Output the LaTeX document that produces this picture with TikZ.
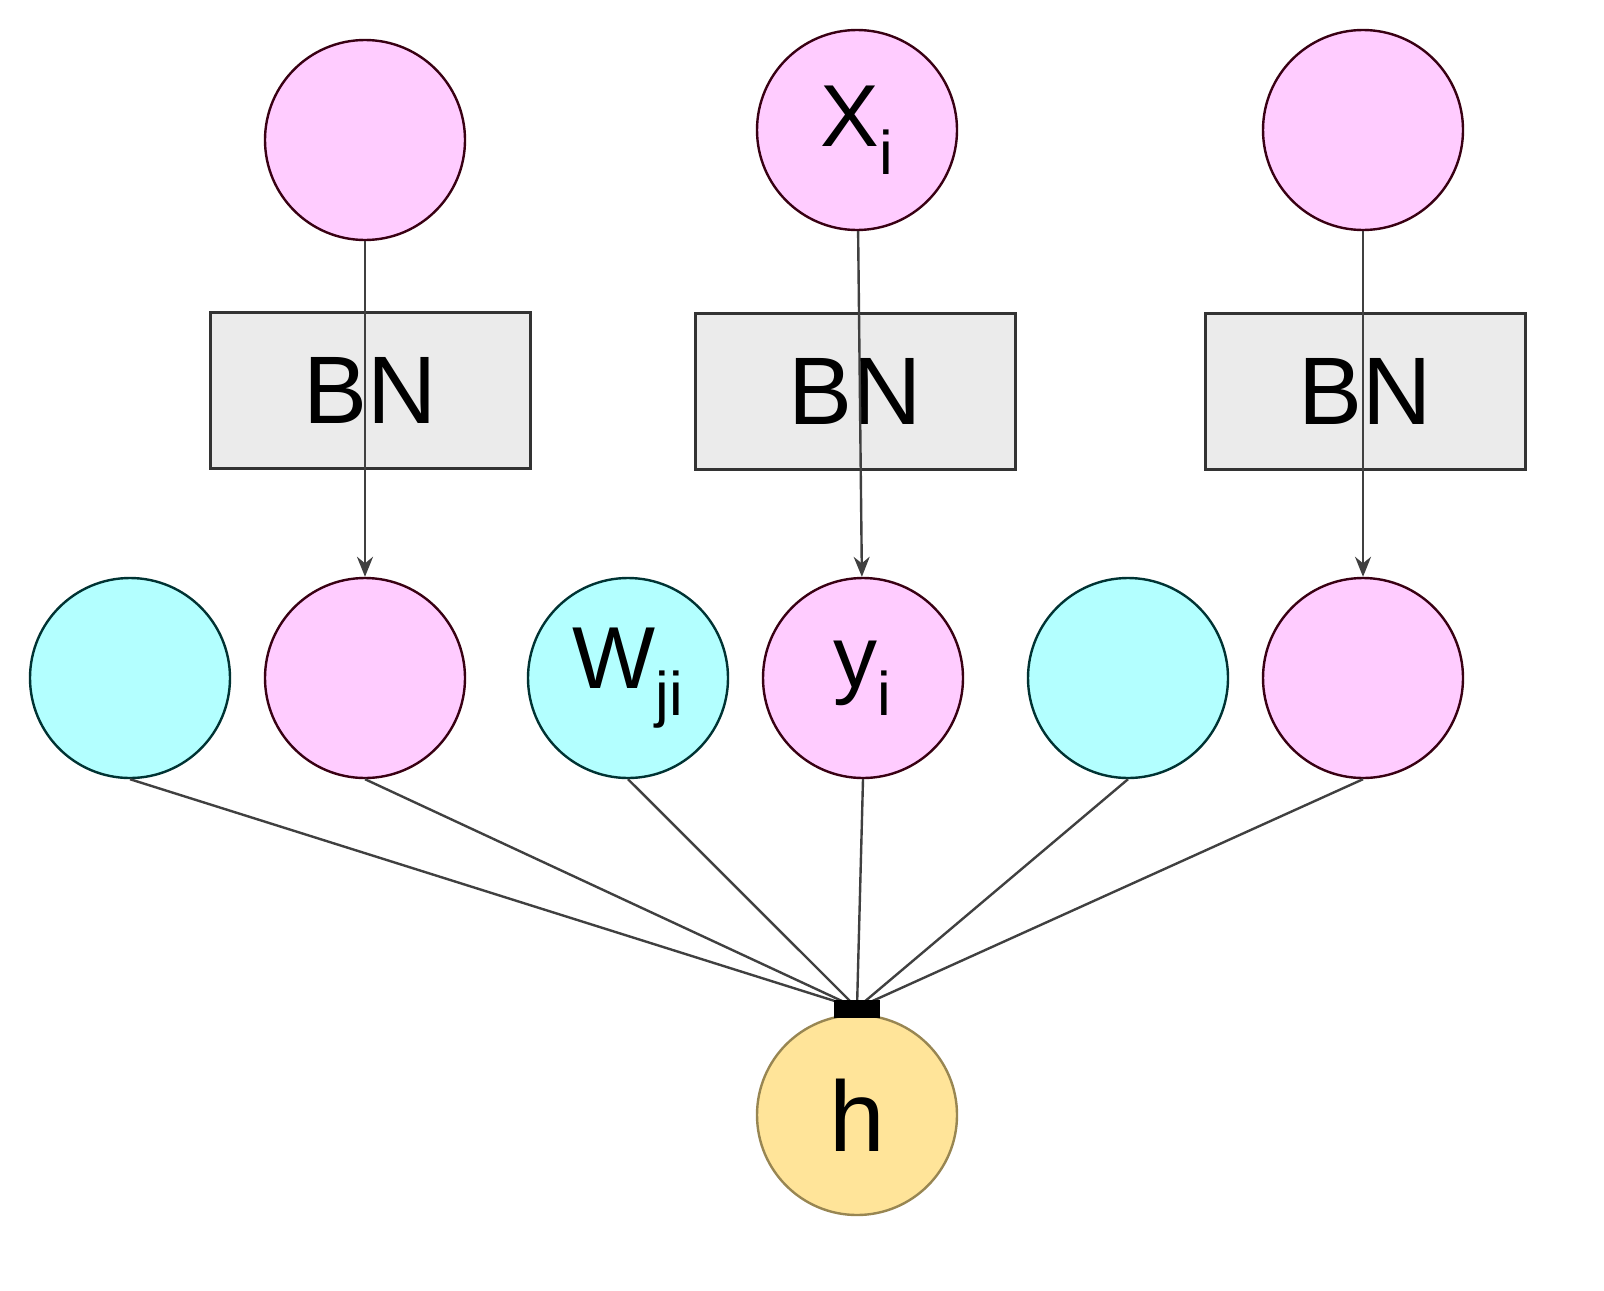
\documentclass[tikz,border=0pt]{standalone}
\usepackage{fontspec}
\setmainfont{Liberation Sans}
\usetikzlibrary{arrows.meta}
\begin{document}
\begin{tikzpicture}[x=0.5pt,y=-0.5pt,
  pk/.style={circle,draw=black!70!purple,fill=pink!40!magenta!20,minimum size=100pt,inner sep=0pt,line width=1.2pt},
  cy/.style={circle,draw=black!60!teal,fill=cyan!30,minimum size=100pt,inner sep=0pt,line width=1.2pt},
  bn/.style={draw=black!80,fill=black!8,minimum width=160pt,minimum height=78pt,line width=1.5pt,font=\fontsize{48}{50}\selectfont},
  ar/.style={draw=black!75,line width=1.2pt,-{Stealth[length=10pt,width=8pt]}},
  ln/.style={draw=black!75,line width=1.2pt},
  big/.style={font=\fontsize{44}{46}\selectfont}]
\useasboundingbox (0,0) rectangle (1604,1290);
\definecolor{pinkc}{HTML}{FFCCFF}\definecolor{cyanc}{HTML}{B3FFFF}\definecolor{yel}{HTML}{FFE499}
\tikzset{pk/.append style={fill=pinkc},cy/.append style={fill=cyanc}}
\node[bn] (b1) at (370,390) {BN};
\node[bn] (b2) at (855,391) {BN};
\node[bn] (b3) at (1365,391) {BN};
\node[pk] (t1) at (365,140) {};
\node[pk,big] (t2) at (857,130) {X\textsubscript{i}};
\node[pk] (t3) at (1363,130) {};
\node[cy] (m1) at (130,678) {};
\node[pk] (m2) at (365,678) {};
\node[cy,big] (m3) at (628,678) {W\textsubscript{ji}};
\node[pk,big] (m4) at (863,678) {y\textsubscript{i}};
\node[cy] (m5) at (1128,678) {};
\node[pk] (m6) at (1363,678) {};
\node[circle,draw=black!60!yellow!60!brown,fill=yel,minimum size=100pt,line width=1.2pt,font=\fontsize{50}{52}\selectfont] (h) at (857,1115) {h};
\draw[ar] (t1) -- (m2);
\draw[ar] (t2) -- (m4);
\draw[ar] (t3) -- (m6);
\coordinate (c) at (857,1008);
\foreach \m in {m1,m2,m3,m4,m5,m6} \draw[ln] (\m.south) -- (c);
\fill[black] (834,1000) rectangle (880,1018);
\end{tikzpicture}
\end{document}
